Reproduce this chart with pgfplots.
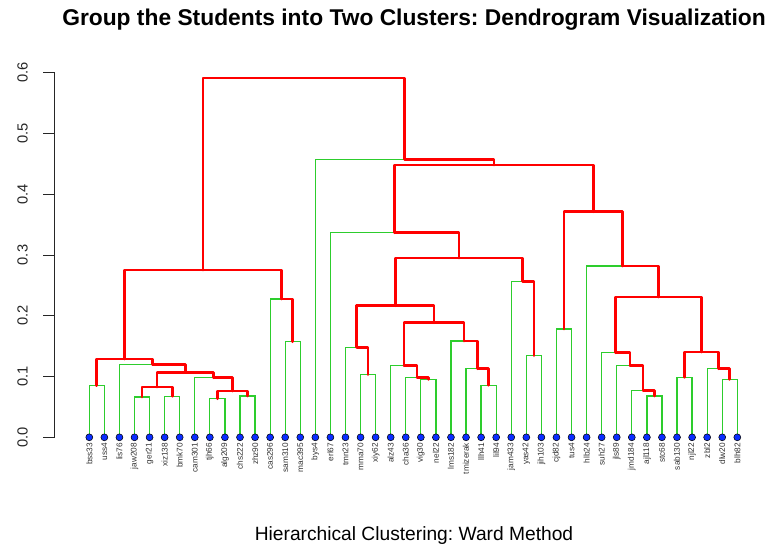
\documentclass[border=0pt]{standalone}
\usepackage{fontspec}
\setmainfont{Liberation Sans}
\usepackage{pgfplots}
\pgfplotsset{compat=1.18}
\definecolor{dred}{RGB}{255,0,0}
\definecolor{dgreen}{RGB}{45,205,45}
\definecolor{dblue}{RGB}{10,45,255}
\frenchspacing
\begin{document}
\begin{tikzpicture}
\useasboundingbox (-41.25pt,-82.275pt) rectangle (538.5pt,327.975pt);
\begin{axis}[
  at={(0pt,0pt)}, anchor=south west,
  scale only axis, width=538.5pt, height=273.45pt,
  xmin=-1.276, xmax=46.37, ymin=0, ymax=0.6,
  clip=false,
  axis y line*=left, axis x line*=bottom,
  x axis line style={draw=none},
  y axis line style={black!85, line width=0.75pt},
  tick align=outside,
  major tick length=8.8pt,
  /pgf/number format/assume math mode=true,
  ytick={0,0.1,0.2,0.3,0.4,0.5,0.6},
  y tick style={black!85, line width=0.75pt},
  yticklabel shift=11.8pt,
  yticklabel style={rotate=90, anchor=base, inner sep=0pt, text=black!85,
    font=\fontsize{11}{12}\selectfont,
    /pgf/number format/fixed, /pgf/number format/fixed zerofill, /pgf/number format/precision=1},
  xtick={1,...,44},
  x tick style={draw=none},
  xticklabel shift=-4.8pt,
  xticklabels={bss33,uss4,lis76,jaw208,ger21,xiz138,bmk70,cam301,tjh66,alg209,chs222,zhz90,cas296,sam310,mac395,bys4,erl67,tmn23,mma70,xiy62,alz43,cha36,vig30,nel22,lms182,tmizerak,llh41,lil94,jam433,yas42,jih103,cjd82,tus4,hlb24,suh27,jls89,jmd184,ajl118,stc68,sab130,njl22,zbl2,dlw20,blh82},
  xticklabel style={rotate=90, anchor=east, inner sep=0pt, text=black!80, font=\fontsize{6.2}{7}\selectfont},
  every axis title shift=0pt,
  title={Group the Students into Two Clusters: Dendrogram Visualization},
  title style={at={(axis description cs:0.5,1.1308)}, anchor=base, font=\bfseries\fontsize{17.1}{20}\selectfont},
  xlabel={Hierarchical Clustering: Ward Method},
  xlabel style={at={(axis description cs:0.5,-0.284)}, anchor=base, font=\fontsize{14.4}{17}\selectfont},
]
% branches ending in a leaf
\addplot[dgreen, line width=0.95pt, unbounded coords=jump] coordinates {
(1,0)(1,0.085)(2,0.085)(2,0) (nan,nan)
(3,0)(3,0.120)(5.1875,0.120) (nan,nan)
(4,0)(4,0.0663)(5,0.0663)(5,0) (nan,nan)
(6,0)(6,0.0674)(7,0.0674)(7,0) (nan,nan)
(8,0)(8,0.0981)(9.25,0.0981) (nan,nan)
(9,0)(9,0.0635)(10,0.0635)(10,0) (nan,nan)
(11,0)(11,0.0679)(12,0.0679)(12,0) (nan,nan)
(13,0)(13,0.2275)(13.75,0.2275) (nan,nan)
(14,0)(14,0.1573)(15,0.1573)(15,0) (nan,nan)
(16,0)(16,0.4572)(21.9277,0.4572) (nan,nan)
(17,0)(17,0.3366)(21.2656,0.3366) (nan,nan)
(18,0)(18,0.148)(18.75,0.148) (nan,nan)
(19,0)(19,0.103)(20,0.103)(20,0) (nan,nan)
(21,0)(21,0.1178)(21.875,0.1178) (nan,nan)
(22,0)(22,0.0986)(22.75,0.0986) (nan,nan)
(23,0)(23,0.0953)(24,0.0953)(24,0) (nan,nan)
(25,0)(25,0.1584)(25.875,0.1584) (nan,nan)
(26,0)(26,0.1129)(26.75,0.1129) (nan,nan)
(27,0)(27,0.0855)(28,0.0855)(28,0) (nan,nan)
(29,0)(29,0.2565)(29.75,0.2565) (nan,nan)
(30,0)(30,0.1343)(31,0.1343)(31,0) (nan,nan)
(32,0)(32,0.1781)(33,0.1781)(33,0) (nan,nan)
(34,0)(34,0.2817)(36.3906,0.2817) (nan,nan)
(35,0)(35,0.1392)(35.9375,0.1392) (nan,nan)
(36,0)(36,0.1184)(36.875,0.1184) (nan,nan)
(37,0)(37,0.0767)(37.75,0.0767) (nan,nan)
(38,0)(38,0.0679)(39,0.0679)(39,0) (nan,nan)
(40,0)(40,0.0986)(41,0.0986)(41,0) (nan,nan)
(42,0)(42,0.1129)(42.75,0.1129) (nan,nan)
(43,0)(43,0.0953)(44,0.0953)(44,0)
};
% branches ending in a merge
\addplot[dred, line width=2pt, line join=round, line cap=round, unbounded coords=jump] coordinates {
(8.5469,0.2752)(8.5469,0.5914)(21.9277,0.5914)(21.9277,0.4572) (nan,nan)
(3.3438,0.1288)(3.3438,0.2752)(13.75,0.2752)(13.75,0.2275) (nan,nan)
(1.5,0.085)(1.5,0.1288)(5.1875,0.1288)(5.1875,0.120) (nan,nan)
(5.1875,0.120)(7.375,0.120)(7.375,0.1069) (nan,nan)
(5.5,0.0827)(5.5,0.1069)(9.25,0.1069)(9.25,0.0981) (nan,nan)
(4.5,0.0663)(4.5,0.0827)(6.5,0.0827)(6.5,0.0674) (nan,nan)
(9.25,0.0981)(10.5,0.0981)(10.5,0.0762) (nan,nan)
(9.5,0.0635)(9.5,0.0762)(11.5,0.0762)(11.5,0.0679) (nan,nan)
(13.75,0.2275)(14.5,0.2275)(14.5,0.1573) (nan,nan)
(21.9277,0.4572)(27.8555,0.4572)(27.8555,0.4479) (nan,nan)
(21.2656,0.3366)(21.2656,0.4479)(34.4453,0.4479)(34.4453,0.3711) (nan,nan)
(21.2656,0.3366)(25.5313,0.3366)(25.5313,0.2949) (nan,nan)
(21.3125,0.2165)(21.3125,0.2949)(29.75,0.2949)(29.75,0.2565) (nan,nan)
(18.75,0.148)(18.75,0.2165)(23.875,0.2165)(23.875,0.1885) (nan,nan)
(18.75,0.148)(19.5,0.148)(19.5,0.103) (nan,nan)
(21.875,0.1178)(21.875,0.1885)(25.875,0.1885)(25.875,0.1584) (nan,nan)
(21.875,0.1178)(22.75,0.1178)(22.75,0.0986) (nan,nan)
(22.75,0.0986)(23.5,0.0986)(23.5,0.0953) (nan,nan)
(25.875,0.1584)(26.75,0.1584)(26.75,0.1129) (nan,nan)
(26.75,0.1129)(27.5,0.1129)(27.5,0.0855) (nan,nan)
(29.75,0.2565)(30.5,0.2565)(30.5,0.1343) (nan,nan)
(32.5,0.1781)(32.5,0.3711)(36.3906,0.3711)(36.3906,0.2817) (nan,nan)
(36.3906,0.2817)(38.7813,0.2817)(38.7813,0.2308) (nan,nan)
(35.9375,0.1392)(35.9375,0.2308)(41.625,0.2308)(41.625,0.1403) (nan,nan)
(35.9375,0.1392)(36.875,0.1392)(36.875,0.1184) (nan,nan)
(36.875,0.1184)(37.75,0.1184)(37.75,0.0767) (nan,nan)
(37.75,0.0767)(38.5,0.0767)(38.5,0.0679) (nan,nan)
(40.5,0.0986)(40.5,0.1403)(42.75,0.1403)(42.75,0.1129) (nan,nan)
(42.75,0.1129)(43.5,0.1129)(43.5,0.0953)
};
% leaves
\addplot[only marks, mark=*, mark size=2.6pt, mark options={draw=none, fill=dblue}] coordinates {
(1,0)(2,0)(3,0)(4,0)(5,0)(6,0)(7,0)(8,0)(9,0)(10,0)(11,0)(12,0)(13,0)(14,0)(15,0)(16,0)(17,0)(18,0)(19,0)(20,0)(21,0)(22,0)
(23,0)(24,0)(25,0)(26,0)(27,0)(28,0)(29,0)(30,0)(31,0)(32,0)(33,0)(34,0)(35,0)(36,0)(37,0)(38,0)(39,0)(40,0)(41,0)(42,0)(43,0)(44,0)
};
\end{axis}
\end{tikzpicture}
\end{document}
